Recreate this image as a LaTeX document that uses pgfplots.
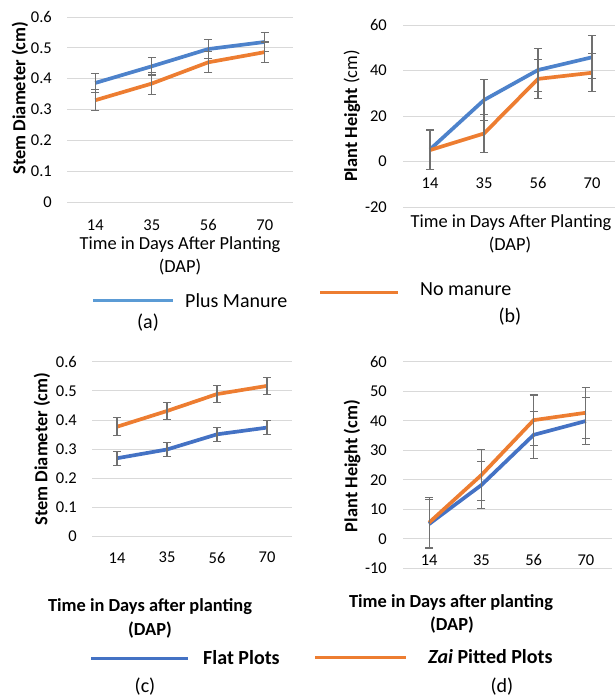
\documentclass[border=0pt]{standalone}
\usepackage{pgfplots}
\pgfplotsset{compat=1.18}
\usepackage{pgfplotstable}
\usepackage{fontspec}
\setmainfont{Carlito}
\definecolor{pblue}{HTML}{4472C4}
\definecolor{lblue}{HTML}{5B9BD5}
\definecolor{porange}{HTML}{ED7D31}
\definecolor{gridg}{HTML}{D9D9D9}
\definecolor{errg}{HTML}{707070}

% Panel (a): Stem diameter, plus manure (pm) vs no manure (nm)
\pgfplotstableread{
x pm epm nm enm
0 0.386 0.030 0.330 0.034
1 0.440 0.028 0.384 0.035
2 0.496 0.030 0.453 0.034
3 0.519 0.030 0.486 0.033
}\dataA
% Panel (b): Plant height
\pgfplotstableread{
x pm epm nm enm
0 5.3 8.8 5.0 8.5
1 27.0 9.0 12.3 8.4
2 40.2 9.3 36.3 8.5
3 45.8 9.4 39.0 8.4
}\dataB
% Panel (c): Stem diameter, flat (fl) vs zai (za)
\pgfplotstableread{
x fl efl za eza
0 0.269 0.024 0.377 0.031
1 0.299 0.024 0.431 0.030
2 0.351 0.024 0.489 0.030
3 0.374 0.024 0.517 0.030
}\dataC
% Panel (d): Plant height
\pgfplotstableread{
x fl efl za eza
0 5.0 8.2 5.5 8.5
1 18.2 8.0 21.6 8.7
2 35.2 8.0 40.2 8.5
3 39.9 8.0 42.7 8.6
}\dataD

\pgfplotsset{
  panel/.style={
    scale only axis,
    anchor=south west,
    clip=false,
    axis line style={draw=none},
    major tick length=0pt,
    ymajorgrids,
    grid style={color=gridg, line width=0.9bp},
    xtick={0,1,2,3},
    xticklabels={14,35,56,70},
    xmin=-0.5,
    /pgf/number format/assume math mode=true,
    ticklabel style={font=\fontsize{16.5bp}{18bp}\selectfont, inner sep=0pt},
    yticklabel style={anchor=east},
    xticklabel style={anchor=center},
  },
  ser/.style={line width=3.7bp, #1,
    error bars/.cd, y dir=both, y explicit, error mark=|,
    error bar style={errg, line width=1.1bp},
    error mark options={errg, line width=1.1bp, mark size=4bp}},
}

\begin{document}
\begin{tikzpicture}[x=1bp,y=1bp]
\path[use as bounding box] (0,0) rectangle (615,698);

% (a)
\begin{axis}[panel, at={(67bp,496bp)}, width=226bp, height=185bp,
  xmax=3.5, ymin=0, ymax=0.6, ytick={0,0.1,...,0.6},
  yticklabel style={xshift=-15bp}, xticklabel style={yshift=-23bp}]
\addplot[ser=lblue!40!pblue] table[x=x, y=pm, y error=epm] {\dataA};
\addplot[ser=porange] table[x=x, y=nm, y error=enm] {\dataA};
\end{axis}

% (b)
\begin{axis}[panel, at={(403bp,491bp)}, width=212bp, height=182bp,
  xmax=3.426, ymin=-20, ymax=60, ytick={-20,0,20,40,60},
  yticklabel style={xshift=-16bp}, xticklabel style={yshift=24bp}]
\addplot[ser=lblue!40!pblue] table[x=x, y=pm, y error=epm] {\dataB};
\addplot[ser=porange] table[x=x, y=nm, y error=enm] {\dataB};
\end{axis}

% (c)
\begin{axis}[panel, at={(92bp,161.3bp)}, width=200bp, height=175bp,
  xmax=3.5, ymin=0, ymax=0.6, ytick={0,0.1,...,0.6},
  yticklabel style={xshift=-15bp}, xticklabel style={yshift=-21bp}]
\addplot[ser=pblue] table[x=x, y=fl, y error=efl] {\dataC};
\addplot[ser=porange] table[x=x, y=za, y error=eza] {\dataC};
\end{axis}

% (d)
\begin{axis}[panel, at={(403bp,129.7bp)}, width=209bp, height=206.6bp,
  xmax=3.5, ymin=-10, ymax=60, ytick={-10,0,...,60},
  yticklabel style={xshift=-16bp}, xticklabel style={yshift=8.3bp}]
\addplot[ser=pblue] table[x=x, y=fl, y error=efl] {\dataD};
\addplot[ser=porange] table[x=x, y=za, y error=eza] {\dataD};
\end{axis}

% axis titles
\begin{scope}[every node/.style={inner sep=0pt, font=\fontsize{18.4bp}{20bp}\selectfont}]
\node[rotate=90] at (20,600) {\textbf{Stem Diameter (cm)}};
\node at (180,453) {Time in Days After Planting};
\node at (180,431) {(DAP)};
\node[rotate=90] at (352,582) {\textbf{Plant Height} (cm)};
\node at (511,475) {Time in Days After Planting};
\node at (510,453) {(DAP)};
\node[rotate=90] at (42,249) {\textbf{Stem Diameter (cm)}};
\node at (150,91) {\textbf{Time in Days after planting}};
\node at (150,68) {\textbf{(DAP)}};
\node[rotate=90] at (352,232) {\textbf{Plant Height (cm)}};
\node at (451,95) {\textbf{Time in Days after planting}};
\node at (452,73) {\textbf{(DAP)}};
\end{scope}

% legends and panel letters
\begin{scope}[every node/.style={inner sep=0pt, font=\fontsize{20bp}{22bp}\selectfont}]
\draw[lblue, line width=3bp] (93,397) -- (173,397);
\node[anchor=west] at (185,397) {Plus Manure};
\draw[porange, line width=3bp] (320,405) -- (398,405);
\node[anchor=west] at (420,409) {No manure};
\node at (148,375) {(a)};
\node at (510,381) {(b)};
\draw[pblue, line width=3bp] (91,39) -- (188,39);
\node[anchor=west] at (203,40) {\textbf{Flat Plots}};
\draw[porange, line width=3bp] (315,40) -- (406,40);
\node[anchor=west] at (428,41) {\textbf{\textit{Zai} Pitted Plots}};
\node at (145,11) {(c)};
\node at (502,11) {(d)};
\end{scope}
\end{tikzpicture}
\end{document}
